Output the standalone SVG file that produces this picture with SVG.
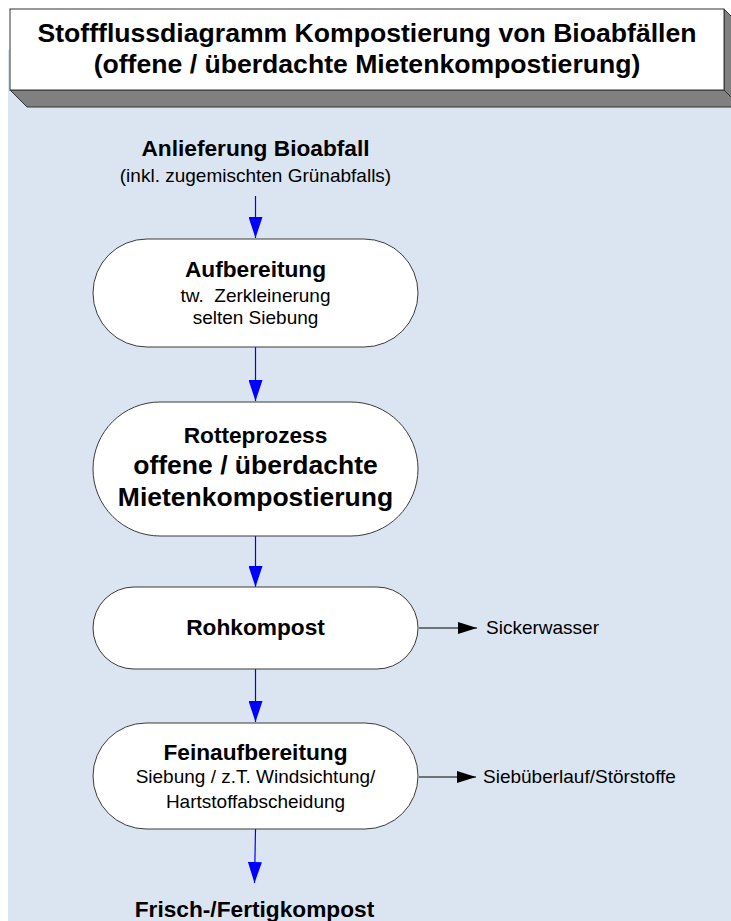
<svg xmlns="http://www.w3.org/2000/svg" width="731" height="921" viewBox="0 0 731 921">
  <style>
    text { font-family: "Liberation Sans", Arial, sans-serif; fill: #000; text-anchor: middle; }
    .title { font-size: 26.6px; font-weight: bold; }
    .b { font-size: 22.7px; font-weight: bold; }
    .big { font-size: 26.5px; font-weight: bold; }
    .r { font-size: 19px; }
    .side { font-size: 19px; text-anchor: start; }
    .node { fill: #ffffff; stroke: #3a3a3a; stroke-width: 1; }
    .flow { stroke: #0000ff; stroke-width: 1.2; fill: none; marker-end: url(#blueArrow); }
    .out { stroke: #000; stroke-width: 1; fill: none; marker-end: url(#blackArrow); }
  </style>
  <defs>
    <marker id="blueArrow" markerUnits="userSpaceOnUse" markerWidth="21" markerHeight="14" refX="21" refY="7" orient="auto">
      <path d="M0,0 L21,7 L0,14 z" fill="#0000ff"/>
    </marker>
    <marker id="blackArrow" markerUnits="userSpaceOnUse" markerWidth="19" markerHeight="12" refX="19" refY="6" orient="auto">
      <path d="M0,0 L19,6 L0,12 z" fill="#000"/>
    </marker>
  </defs>

  <rect x="0" y="0" width="731" height="921" fill="#ffffff"/>
  <rect x="8" y="50" width="723" height="871" fill="#dbe5f1"/>

  <g id="title">
    <polygon points="10,90 724,90 741,107 27,107" fill="#808080" stroke="#333" stroke-width="1"/>
    <polygon points="724,9 741,26 741,107 724,90" fill="#808080" stroke="#333" stroke-width="1"/>
    <rect x="10" y="9" width="714" height="81" fill="#ffffff" stroke="#333" stroke-width="1"/>
    <text class="title" x="367" y="42">Stoffflussdiagramm Kompostierung von Bioabfällen</text>
    <text class="title" x="367" y="73">(offene / überdachte Mietenkompostierung)</text>
  </g>

  <g id="connectors">
    <line class="flow" x1="255.5" y1="196" x2="255.5" y2="238"/>
    <line class="flow" x1="255.5" y1="347" x2="255.5" y2="401"/>
    <line class="flow" x1="255.5" y1="536" x2="255.5" y2="587"/>
    <line class="flow" x1="255.5" y1="669" x2="255.5" y2="722"/>
    <line class="flow" x1="255.5" y1="829" x2="254.5" y2="883"/>
    <line class="out" x1="419" y1="628" x2="477" y2="628"/>
    <line class="out" x1="419" y1="777" x2="476" y2="777"/>
  </g>

  <g id="input">
    <text class="b" x="255.5" y="156">Anlieferung Bioabfall</text>
    <text class="r" x="255.5" y="182">(inkl. zugemischten Grünabfalls)</text>
  </g>

  <g id="aufbereitung">
    <rect class="node" x="93" y="239" width="325" height="108" rx="54" ry="54"/>
    <text class="b" x="255.5" y="277">Aufbereitung</text>
    <text class="r" x="255.5" y="302" xml:space="preserve">tw.  Zerkleinerung</text>
    <text class="r" x="255.5" y="324">selten Siebung</text>
  </g>

  <g id="rotteprozess">
    <rect class="node" x="93" y="402" width="325" height="134" rx="67" ry="67"/>
    <text class="b" x="255.5" y="443">Rotteprozess</text>
    <text class="big" x="255.5" y="474">offene / überdachte</text>
    <text class="big" x="255.5" y="506">Mietenkompostierung</text>
  </g>

  <g id="rohkompost">
    <rect class="node" x="93" y="587" width="325" height="82" rx="41" ry="41"/>
    <text class="b" x="255.5" y="635">Rohkompost</text>
  </g>

  <g id="sickerwasser">
    <text class="side" x="486" y="634">Sickerwasser</text>
  </g>

  <g id="feinaufbereitung">
    <rect class="node" x="93" y="723" width="325" height="106" rx="53" ry="53"/>
    <text class="b" x="255.5" y="760">Feinaufbereitung</text>
    <text class="r" x="255.5" y="783">Siebung / z.T. Windsichtung/</text>
    <text class="r" x="255.5" y="808">Hartstoffabscheidung</text>
  </g>

  <g id="stoerstoffe">
    <text class="side" x="483" y="783">Siebüberlauf/Störstoffe</text>
  </g>

  <g id="output">
    <text class="b" x="254.5" y="917">Frisch-/Fertigkompost</text>
  </g>
</svg>
